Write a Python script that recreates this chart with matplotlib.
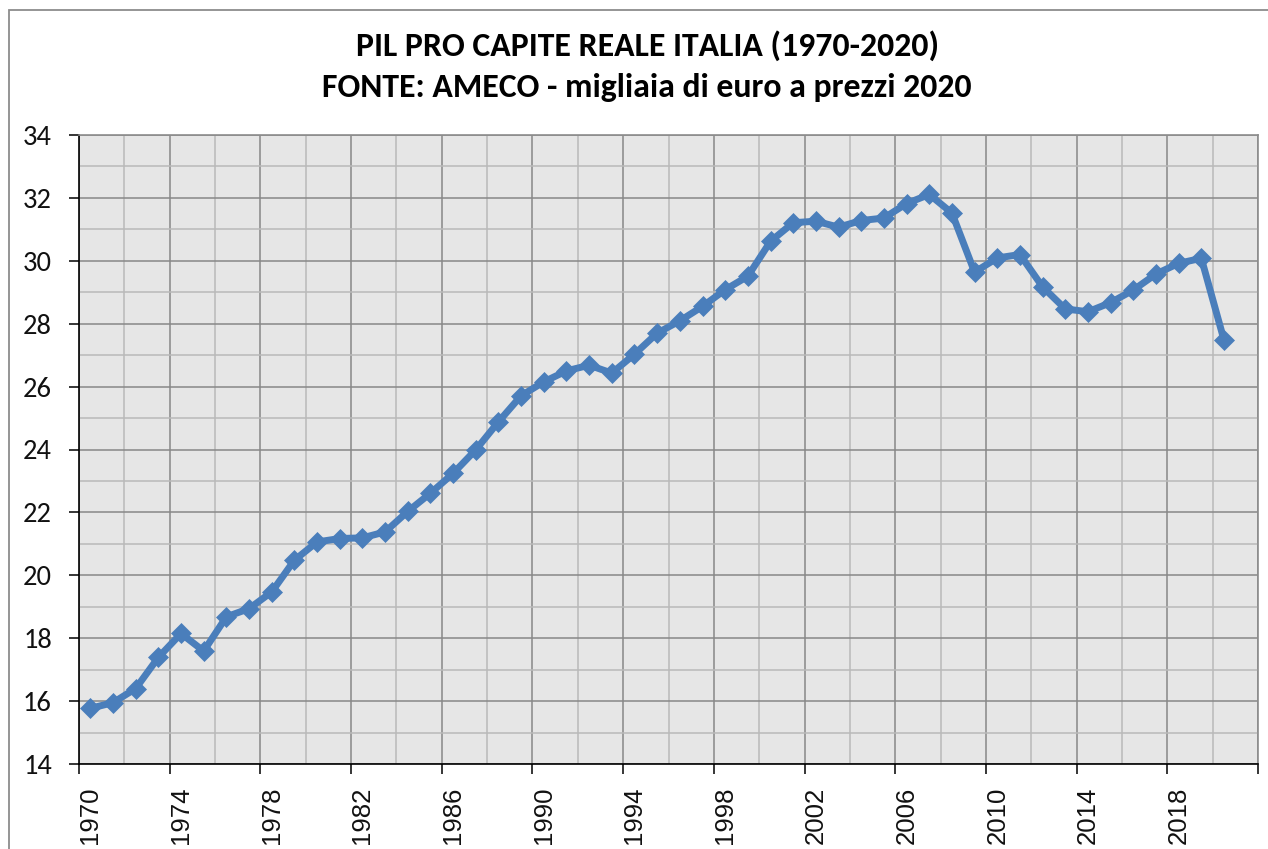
import matplotlib
matplotlib.use('Agg')
import matplotlib.pyplot as plt
from matplotlib import font_manager
from matplotlib.ticker import MultipleLocator, FixedLocator, FixedFormatter
from matplotlib.transforms import ScaledTranslation
from matplotlib.patches import Rectangle

# PIL pro capite reale Italia, migliaia di euro a prezzi 2020 (AMECO)
years = list(range(1970, 2021))
pil = [15.77, 15.95, 16.40, 17.39, 18.15, 17.59, 18.68, 18.94, 19.47, 20.48,
       21.06, 21.17, 21.19, 21.38, 22.03, 22.61, 23.24, 23.99, 24.88, 25.71,
       26.15, 26.50, 26.68, 26.43, 27.03, 27.70, 28.09, 28.55, 29.08, 29.51,
       30.62, 31.21, 31.26, 31.07, 31.28, 31.36, 31.82, 32.11, 31.52, 29.64,
       30.09, 30.20, 29.17, 28.47, 28.38, 28.67, 29.07, 29.58, 29.92, 30.08,
       27.48]
label_years = years[::4]
title1 = 'PIL PRO CAPITE REALE ITALIA (1970-2020)'
title2 = 'FONTE: AMECO - migliaia di euro a prezzi 2020'


def pick(*names):
    have = {f.name for f in font_manager.fontManager.ttflist}
    for n in names:
        if n in have:
            return n
    return 'DejaVu Sans'


calibri = pick('Carlito', 'Calibri', 'Lato')
arial = pick('Liberation Sans', 'Arial', 'DejaVu Sans')

W, H = 1268, 849
fig = plt.figure(figsize=(W / 100, H / 100), dpi=100)
fig.patch.set_facecolor('white')

# chart frame (goes off the right and bottom edge like the screenshot)
fig.add_artist(Rectangle((9 / W, -0.2), 1.2, 1 - 10 / H + 0.2, transform=fig.transFigure,
                         fill=False, ec='#8c8c8c', lw=1.3))

left, right, top, bottom = 79, 1258, 135, 764
ax = fig.add_axes([left / W, 1 - bottom / H, (right - left) / W, (bottom - top) / H])
ax.set_facecolor('#e6e6e6')

n_cat = len(years) + 1  # one empty slot at the end
x = list(range(len(years)))
ax.plot(x, pil, color='#4a7ebb', lw=5, marker='D', ms=10.5, mec='#4a7ebb', mew=0.5,
        zorder=3)

ax.set_xlim(-0.5, n_cat - 0.5)
ax.set_ylim(14, 34)

# category axis: ticks on boundaries, labels in the middle of the category
bounds = [b - 0.5 for b in range(0, n_cat + 1, 4)]
ax.xaxis.set_major_locator(FixedLocator(bounds))
ax.xaxis.set_major_formatter(FixedFormatter([str(y) for y in label_years] + ['']))
ax.xaxis.set_minor_locator(FixedLocator([b - 0.5 for b in range(0, n_cat + 1, 2)]))
ax.yaxis.set_major_locator(MultipleLocator(2))
ax.yaxis.set_minor_locator(MultipleLocator(1))

ax.grid(which='major', color='#878787', lw=1.1)
ax.grid(which='minor', color='#b9b9b9', lw=1.1)
ax.set_axisbelow(True)

ax.tick_params(axis='both', which='major', direction='out', length=7.5, width=1.1, color='black')
ax.tick_params(axis='both', which='minor', length=0)
ax.tick_params(axis='x', labelrotation=90, pad=9, labelsize=18.5, labelcolor='#111111')
ax.tick_params(axis='y', pad=12, labelsize=20.5, labelcolor='#111111')
for lab in ax.get_xticklabels():
    lab.set_fontfamily(arial)
for lab in ax.get_yticklabels():
    lab.set_fontfamily(calibri)

half = (right - left) / n_cat / 2 / 100
for lab in ax.get_xticklabels():
    lab.set_transform(lab.get_transform() + ScaledTranslation(half, 0, fig.dpi_scale_trans))

for s in ['left', 'bottom']:
    ax.spines[s].set_color('black')
    ax.spines[s].set_linewidth(1.2)
for s in ['top', 'right']:
    ax.spines[s].set_color('#8c8c8c')
    ax.spines[s].set_linewidth(1.2)

fig.text(647 / W, 1 - 56 / H, title1, ha='center', va='baseline', fontsize=24.3,
         fontweight='bold', family=calibri)
fig.text(647 / W, 1 - 97 / H, title2, ha='center', va='baseline', fontsize=24.3,
         fontweight='bold', family=calibri)

fig.savefig('out.png', dpi=100)
